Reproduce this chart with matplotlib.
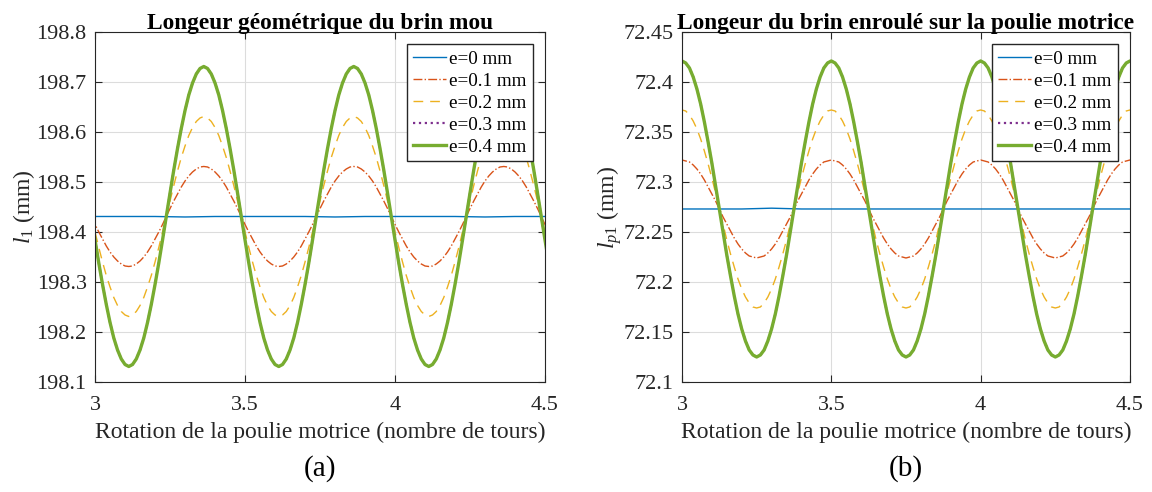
import matplotlib
matplotlib.use("Agg")
import matplotlib.pyplot as plt
from matplotlib.ticker import FuncFormatter

plt.rcParams['font.family'] = ['Liberation Serif', 'DejaVu Serif']
plt.rcParams['mathtext.fontset'] = 'custom'
plt.rcParams['mathtext.rm'] = 'Liberation Serif'
plt.rcParams['mathtext.it'] = 'Liberation Serif:italic'

# --- data ---
labels = ['e=0 mm', 'e=0.1 mm', 'e=0.2 mm', 'e=0.3 mm', 'e=0.4 mm']

# sampling of the rotation (turns), shared by the oscillating curves
turns = [2.9875, 3.0, 3.0125, 3.025, 3.0375, 3.05, 3.0625, 3.075, 3.0875, 3.1,
         3.1125, 3.125, 3.1375, 3.15, 3.1625, 3.175, 3.1875, 3.2, 3.2125, 3.225,
         3.2375, 3.25, 3.2625, 3.275, 3.2875, 3.3, 3.3125, 3.325, 3.3375, 3.35,
         3.3625, 3.375, 3.3875, 3.4, 3.4125, 3.425, 3.4375, 3.45, 3.4625, 3.475,
         3.4875, 3.5, 3.5125, 3.525, 3.5375, 3.55, 3.5625, 3.575, 3.5875, 3.6,
         3.6125, 3.625, 3.6375, 3.65, 3.6625, 3.675, 3.6875, 3.7, 3.7125, 3.725,
         3.7375, 3.75, 3.7625, 3.775, 3.7875, 3.8, 3.8125, 3.825, 3.8375, 3.85,
         3.8625, 3.875, 3.8875, 3.9, 3.9125, 3.925, 3.9375, 3.95, 3.9625, 3.975,
         3.9875, 4.0, 4.0125, 4.025, 4.0375, 4.05, 4.0625, 4.075, 4.0875, 4.1,
         4.1125, 4.125, 4.1375, 4.15, 4.1625, 4.175, 4.1875, 4.2, 4.2125, 4.225,
         4.2375, 4.25, 4.2625, 4.275, 4.2875, 4.3, 4.3125, 4.325, 4.3375, 4.35,
         4.3625, 4.375, 4.3875, 4.4, 4.4125, 4.425, 4.4375, 4.45, 4.4625, 4.475,
         4.4875, 4.5, 4.5125]
# coarser sampling for the flat e=0 curves
turns_flat = [3.0, 3.1, 3.2, 3.3, 3.4, 3.5, 3.6, 3.7, 3.8, 3.9, 4.0, 4.1, 4.2, 4.3, 4.4, 4.5]

# (a) slack strand length, l1 (mm)
l1_e0 = [198.431, 198.431, 198.431, 198.430, 198.431, 198.431, 198.431, 198.431,
         198.430, 198.431, 198.431, 198.431, 198.431, 198.430, 198.431, 198.431]
l1_e01 = [198.431, 198.415, 198.400, 198.386, 198.372, 198.360, 198.350, 198.342, 198.336, 198.332,
          198.331, 198.332, 198.336, 198.342, 198.350, 198.360, 198.372, 198.386, 198.400, 198.415,
          198.431, 198.447, 198.462, 198.476, 198.490, 198.502, 198.512, 198.520, 198.526, 198.530,
          198.531, 198.530, 198.526, 198.520, 198.512, 198.502, 198.490, 198.476, 198.462, 198.447,
          198.431, 198.415, 198.400, 198.386, 198.372, 198.360, 198.350, 198.342, 198.336, 198.332,
          198.331, 198.332, 198.336, 198.342, 198.350, 198.360, 198.372, 198.386, 198.400, 198.415,
          198.431, 198.447, 198.462, 198.476, 198.490, 198.502, 198.512, 198.520, 198.526, 198.530,
          198.531, 198.530, 198.526, 198.520, 198.512, 198.502, 198.490, 198.476, 198.462, 198.447,
          198.431, 198.415, 198.400, 198.386, 198.372, 198.360, 198.350, 198.342, 198.336, 198.332,
          198.331, 198.332, 198.336, 198.342, 198.350, 198.360, 198.372, 198.386, 198.400, 198.415,
          198.431, 198.447, 198.462, 198.476, 198.490, 198.502, 198.512, 198.520, 198.526, 198.530,
          198.531, 198.530, 198.526, 198.520, 198.512, 198.502, 198.490, 198.476, 198.462, 198.447,
          198.431, 198.415, 198.400]
l1_e02 = [198.431, 198.400, 198.369, 198.340, 198.313, 198.290, 198.269, 198.253, 198.241, 198.234,
          198.231, 198.234, 198.241, 198.253, 198.269, 198.290, 198.313, 198.340, 198.369, 198.400,
          198.431, 198.462, 198.493, 198.522, 198.549, 198.572, 198.593, 198.609, 198.621, 198.628,
          198.631, 198.628, 198.621, 198.609, 198.593, 198.572, 198.549, 198.522, 198.493, 198.462,
          198.431, 198.400, 198.369, 198.340, 198.313, 198.290, 198.269, 198.253, 198.241, 198.234,
          198.231, 198.234, 198.241, 198.253, 198.269, 198.290, 198.313, 198.340, 198.369, 198.400,
          198.431, 198.462, 198.493, 198.522, 198.549, 198.572, 198.593, 198.609, 198.621, 198.628,
          198.631, 198.628, 198.621, 198.609, 198.593, 198.572, 198.549, 198.522, 198.493, 198.462,
          198.431, 198.400, 198.369, 198.340, 198.313, 198.290, 198.269, 198.253, 198.241, 198.234,
          198.231, 198.234, 198.241, 198.253, 198.269, 198.290, 198.313, 198.340, 198.369, 198.400,
          198.431, 198.462, 198.493, 198.522, 198.549, 198.572, 198.593, 198.609, 198.621, 198.628,
          198.631, 198.628, 198.621, 198.609, 198.593, 198.572, 198.549, 198.522, 198.493, 198.462,
          198.431, 198.400, 198.369]
l1_e03 = [198.431, 198.384, 198.338, 198.295, 198.255, 198.219, 198.188, 198.164, 198.146, 198.135,
          198.131, 198.135, 198.146, 198.164, 198.188, 198.219, 198.255, 198.295, 198.338, 198.384,
          198.431, 198.478, 198.524, 198.567, 198.607, 198.643, 198.674, 198.698, 198.716, 198.727,
          198.731, 198.727, 198.716, 198.698, 198.674, 198.643, 198.607, 198.567, 198.524, 198.478,
          198.431, 198.384, 198.338, 198.295, 198.255, 198.219, 198.188, 198.164, 198.146, 198.135,
          198.131, 198.135, 198.146, 198.164, 198.188, 198.219, 198.255, 198.295, 198.338, 198.384,
          198.431, 198.478, 198.524, 198.567, 198.607, 198.643, 198.674, 198.698, 198.716, 198.727,
          198.731, 198.727, 198.716, 198.698, 198.674, 198.643, 198.607, 198.567, 198.524, 198.478,
          198.431, 198.384, 198.338, 198.295, 198.255, 198.219, 198.188, 198.164, 198.146, 198.135,
          198.131, 198.135, 198.146, 198.164, 198.188, 198.219, 198.255, 198.295, 198.338, 198.384,
          198.431, 198.478, 198.524, 198.567, 198.607, 198.643, 198.674, 198.698, 198.716, 198.727,
          198.731, 198.727, 198.716, 198.698, 198.674, 198.643, 198.607, 198.567, 198.524, 198.478,
          198.431, 198.384, 198.338]
l1_e04 = [198.431, 198.384, 198.338, 198.295, 198.255, 198.219, 198.188, 198.164, 198.146, 198.135,
          198.131, 198.135, 198.146, 198.164, 198.188, 198.219, 198.255, 198.295, 198.338, 198.384,
          198.431, 198.478, 198.524, 198.567, 198.607, 198.643, 198.674, 198.698, 198.716, 198.727,
          198.731, 198.727, 198.716, 198.698, 198.674, 198.643, 198.607, 198.567, 198.524, 198.478,
          198.431, 198.384, 198.338, 198.295, 198.255, 198.219, 198.188, 198.164, 198.146, 198.135,
          198.131, 198.135, 198.146, 198.164, 198.188, 198.219, 198.255, 198.295, 198.338, 198.384,
          198.431, 198.478, 198.524, 198.567, 198.607, 198.643, 198.674, 198.698, 198.716, 198.727,
          198.731, 198.727, 198.716, 198.698, 198.674, 198.643, 198.607, 198.567, 198.524, 198.478,
          198.431, 198.384, 198.338, 198.295, 198.255, 198.219, 198.188, 198.164, 198.146, 198.135,
          198.131, 198.135, 198.146, 198.164, 198.188, 198.219, 198.255, 198.295, 198.338, 198.384,
          198.431, 198.478, 198.524, 198.567, 198.607, 198.643, 198.674, 198.698, 198.716, 198.727,
          198.731, 198.727, 198.716, 198.698, 198.674, 198.643, 198.607, 198.567, 198.524, 198.478,
          198.431, 198.384, 198.338]

# (b) strand length wound on the driving pulley, lp1 (mm)
lp1_e0 = [72.273, 72.273, 72.273, 72.2738, 72.273, 72.273, 72.273, 72.273,
          72.273, 72.273, 72.273, 72.273, 72.273, 72.273, 72.273, 72.273]
lp1_e01 = [72.321,
           72.322, 72.321, 72.320, 72.317, 72.313, 72.308, 72.302, 72.295, 72.288, 72.281,
           72.273, 72.265, 72.258, 72.251, 72.244, 72.238, 72.233, 72.229, 72.226, 72.225,
           72.224, 72.225, 72.226, 72.229, 72.233, 72.238, 72.244, 72.251, 72.258, 72.265,
           72.273, 72.281, 72.288, 72.295, 72.302, 72.308, 72.313, 72.317, 72.320, 72.321,
           72.322, 72.321, 72.320, 72.317, 72.313, 72.308, 72.302, 72.295, 72.288, 72.281,
           72.273, 72.265, 72.258, 72.251, 72.244, 72.238, 72.233, 72.229, 72.226, 72.225,
           72.224, 72.225, 72.226, 72.229, 72.233, 72.238, 72.244, 72.251, 72.258, 72.265,
           72.273, 72.281, 72.288, 72.295, 72.302, 72.308, 72.313, 72.317, 72.320, 72.321,
           72.322, 72.321, 72.320, 72.317, 72.313, 72.308, 72.302, 72.295, 72.288, 72.281,
           72.273, 72.265, 72.258, 72.251, 72.244, 72.238, 72.233, 72.229, 72.226, 72.225,
           72.224, 72.225, 72.226, 72.229, 72.233, 72.238, 72.244, 72.251, 72.258, 72.265,
           72.273, 72.281, 72.288, 72.295, 72.302, 72.308, 72.313, 72.317, 72.320, 72.321,
           72.322, 72.321]
lp1_e02 = [72.371,
           72.372, 72.371, 72.367, 72.361, 72.353, 72.343, 72.331, 72.318, 72.304, 72.289,
           72.273, 72.258, 72.242, 72.228, 72.215, 72.203, 72.193, 72.185, 72.179, 72.175,
           72.174, 72.175, 72.179, 72.185, 72.193, 72.203, 72.215, 72.228, 72.242, 72.258,
           72.273, 72.289, 72.304, 72.318, 72.331, 72.343, 72.353, 72.361, 72.367, 72.371,
           72.372, 72.371, 72.367, 72.361, 72.353, 72.343, 72.331, 72.318, 72.304, 72.289,
           72.273, 72.258, 72.242, 72.228, 72.215, 72.203, 72.193, 72.185, 72.179, 72.175,
           72.174, 72.175, 72.179, 72.185, 72.193, 72.203, 72.215, 72.228, 72.242, 72.258,
           72.273, 72.289, 72.304, 72.318, 72.331, 72.343, 72.353, 72.361, 72.367, 72.371,
           72.372, 72.371, 72.367, 72.361, 72.353, 72.343, 72.331, 72.318, 72.304, 72.289,
           72.273, 72.258, 72.242, 72.228, 72.215, 72.203, 72.193, 72.185, 72.179, 72.175,
           72.174, 72.175, 72.179, 72.185, 72.193, 72.203, 72.215, 72.228, 72.242, 72.258,
           72.273, 72.289, 72.304, 72.318, 72.331, 72.343, 72.353, 72.361, 72.367, 72.371,
           72.372, 72.371]
lp1_e03 = [72.419,
           72.421, 72.419, 72.414, 72.405, 72.393, 72.378, 72.360, 72.340, 72.319, 72.296,
           72.273, 72.250, 72.227, 72.206, 72.186, 72.168, 72.153, 72.141, 72.132, 72.127,
           72.125, 72.127, 72.132, 72.141, 72.153, 72.168, 72.186, 72.206, 72.227, 72.250,
           72.273, 72.296, 72.319, 72.340, 72.360, 72.378, 72.393, 72.405, 72.414, 72.419,
           72.421, 72.419, 72.414, 72.405, 72.393, 72.378, 72.360, 72.340, 72.319, 72.296,
           72.273, 72.250, 72.227, 72.206, 72.186, 72.168, 72.153, 72.141, 72.132, 72.127,
           72.125, 72.127, 72.132, 72.141, 72.153, 72.168, 72.186, 72.206, 72.227, 72.250,
           72.273, 72.296, 72.319, 72.340, 72.360, 72.378, 72.393, 72.405, 72.414, 72.419,
           72.421, 72.419, 72.414, 72.405, 72.393, 72.378, 72.360, 72.340, 72.319, 72.296,
           72.273, 72.250, 72.227, 72.206, 72.186, 72.168, 72.153, 72.141, 72.132, 72.127,
           72.125, 72.127, 72.132, 72.141, 72.153, 72.168, 72.186, 72.206, 72.227, 72.250,
           72.273, 72.296, 72.319, 72.340, 72.360, 72.378, 72.393, 72.405, 72.414, 72.419,
           72.421, 72.419]
lp1_e04 = [72.419,
           72.421, 72.419, 72.414, 72.405, 72.393, 72.378, 72.360, 72.340, 72.319, 72.296,
           72.273, 72.250, 72.227, 72.206, 72.186, 72.168, 72.153, 72.141, 72.132, 72.127,
           72.125, 72.127, 72.132, 72.141, 72.153, 72.168, 72.186, 72.206, 72.227, 72.250,
           72.273, 72.296, 72.319, 72.340, 72.360, 72.378, 72.393, 72.405, 72.414, 72.419,
           72.421, 72.419, 72.414, 72.405, 72.393, 72.378, 72.360, 72.340, 72.319, 72.296,
           72.273, 72.250, 72.227, 72.206, 72.186, 72.168, 72.153, 72.141, 72.132, 72.127,
           72.125, 72.127, 72.132, 72.141, 72.153, 72.168, 72.186, 72.206, 72.227, 72.250,
           72.273, 72.296, 72.319, 72.340, 72.360, 72.378, 72.393, 72.405, 72.414, 72.419,
           72.421, 72.419, 72.414, 72.405, 72.393, 72.378, 72.360, 72.340, 72.319, 72.296,
           72.273, 72.250, 72.227, 72.206, 72.186, 72.168, 72.153, 72.141, 72.132, 72.127,
           72.125, 72.127, 72.132, 72.141, 72.153, 72.168, 72.186, 72.206, 72.227, 72.250,
           72.273, 72.296, 72.319, 72.340, 72.360, 72.378, 72.393, 72.405, 72.414, 72.419,
           72.421, 72.419]

# MATLAB default line styles
styles = [dict(color='#0072BD', ls='-', lw=1.0),
          dict(color='#D95319', ls='-.', lw=1.0),
          dict(color='#EDB120', ls=(0, (7, 5)), lw=1.0),
          dict(color='#7E2F8E', ls=':', lw=1.6),
          dict(color='#77AC30', ls='-', lw=2.4)]

axis_col = '#262626'
fmt_g = FuncFormatter(lambda v, p: '%g' % round(v, 4))


def style_axes(ax, title, ylabel, ylim, yticks):
    ax.set_xlim(3, 4.5)
    ax.set_ylim(*ylim)
    ax.set_xticks([3, 3.5, 4, 4.5])
    ax.set_yticks(yticks)
    ax.xaxis.set_major_formatter(fmt_g)
    ax.yaxis.set_major_formatter(fmt_g)
    ax.grid(True, color='#dcdcdc', lw=0.8)
    ax.set_axisbelow(True)
    ax.tick_params(direction='in', top=True, right=True, labelsize=16,
                   colors=axis_col, length=5, width=0.8)
    ax.tick_params(axis='x', pad=10)
    ax.tick_params(axis='y', pad=6)
    for s in ax.spines.values():
        s.set_color(axis_col)
        s.set_linewidth(0.8)
    ax.set_title(title, fontsize=16.8, fontweight='bold', pad=2)
    ax.set_xlabel('Rotation de la poulie motrice (nombre de tours)', fontsize=17,
                  color=axis_col, labelpad=5)
    ax.set_ylabel(ylabel, fontsize=17, color=axis_col, labelpad=0)
    ax.legend(loc='upper right', fontsize=13.8, frameon=True, fancybox=False,
              edgecolor=axis_col, framealpha=1, borderpad=0.3, labelspacing=0.24,
              handlelength=1.7, handletextpad=0.2, borderaxespad=0.65)


fig = plt.figure(figsize=(11.52, 4.92), dpi=100)
ax1 = fig.add_axes([0.0825, 0.2236, 0.3906, 0.7114])
ax2 = fig.add_axes([0.592, 0.2236, 0.3889, 0.7114])

for x, y, lab, st in zip([turns_flat, turns, turns, turns, turns],
                         [l1_e0, l1_e01, l1_e02, l1_e03, l1_e04], labels, styles):
    ax1.plot(x, y, label=lab, solid_joinstyle='round', **st)
for x, y, lab, st in zip([turns_flat, turns, turns, turns, turns],
                         [lp1_e0, lp1_e01, lp1_e02, lp1_e03, lp1_e04], labels, styles):
    ax2.plot(x, y, label=lab, solid_joinstyle='round', **st)

style_axes(ax1, 'Longeur géométrique du brin mou', '$l_1$ (mm)',
           (198.1, 198.8), [198.1, 198.2, 198.3, 198.4, 198.5, 198.6, 198.7, 198.8])
style_axes(ax2, 'Longeur du brin enroulé sur la poulie motrice', '$l_{p1}$ (mm)',
           (72.1, 72.45), [72.1, 72.15, 72.2, 72.25, 72.3, 72.35, 72.4, 72.45])

fig.text(0.278, 0.048, '(a)', ha='center', va='center', fontsize=21)
fig.text(0.786, 0.048, '(b)', ha='center', va='center', fontsize=21)

fig.savefig('out.png', dpi=100)
